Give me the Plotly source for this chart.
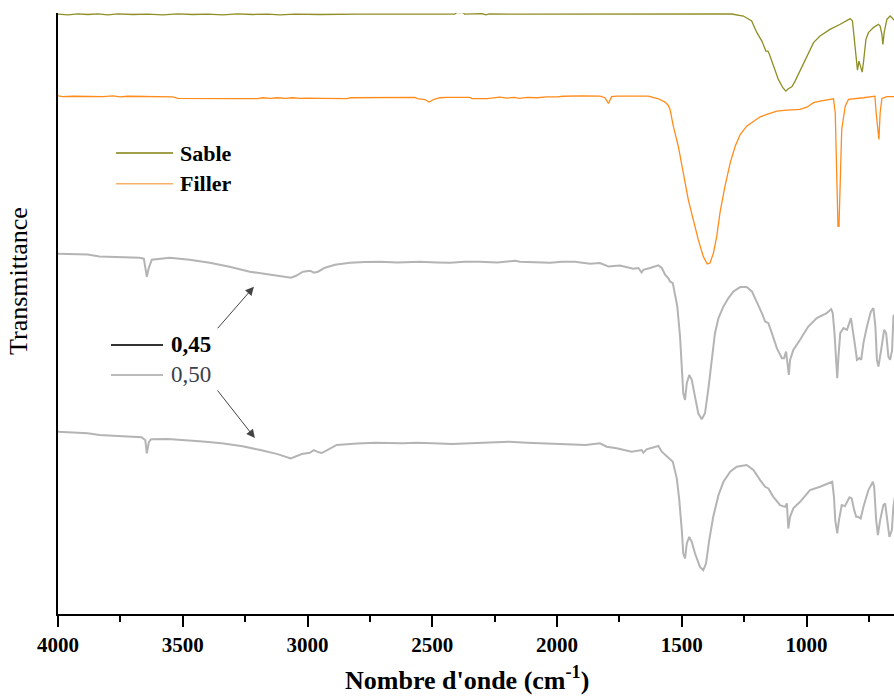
import plotly.graph_objects as go

# FTIR spectra: (wavenumber cm-1, transmittance in arbitrary stacked units)
sable = [(4000, 99.8), (3960, 99.7), (3920, 99.85), (3880, 99.75), (3840, 99.85), (3800, 99.7),
         (3760, 99.85), (3700, 99.75), (3640, 99.8), (3580, 99.7), (3520, 99.85), (3460, 99.75),
         (3400, 99.8), (3340, 99.7), (3280, 99.85), (3220, 99.75), (3160, 99.8), (3110, 99.7),
         (3050, 99.8), (2950, 99.75), (2800, 99.8), (2600, 99.8), (2410, 99.8), (2404, 100.05),
         (2376, 100.05), (2370, 99.8), (2300, 99.9), (2285, 99.7), (2272, 99.85), (2150, 99.8),
         (1900, 99.8), (1600, 99.8), (1400, 99.8), (1300, 99.83), (1253, 99.5), (1220, 98.67),
         (1199, 96.73), (1179, 95.33), (1163, 93.67), (1155, 93.67), (1149, 93.12), (1133, 91.17),
         (1113, 88.95), (1095, 87.57), (1083, 87.0), (1073, 87.4), (1059, 87.73), (1046, 88.67),
         (1026, 90.33), (999, 92.83), (972, 95.07), (946, 96.17), (906, 97.28), (865, 98.12),
         (825, 99.07), (816, 98.67), (809, 96.17), (801, 92.28), (796, 90.5), (790, 92.0),
         (785, 91.17), (777, 90.17), (772, 91.73), (762, 95.62), (752, 96.73), (732, 97.57),
         (712, 98.12), (705, 97.83), (698, 96.45), (694, 94.78), (689, 96.73), (678, 98.95),
         (665, 99.5), (649, 98.83)]

filler = [(4000, 86.2), (3980, 86.1), (3940, 86.15), (3900, 86.1), (3860, 86.15), (3820, 86.1),
          (3780, 86.2), (3750, 86.05), (3720, 86.15), (3680, 86.1), (3600, 86.1), (3540, 86.05),
          (3520, 85.8), (3450, 85.75), (3300, 85.75), (3200, 85.75), (3180, 85.9), (3150, 85.8),
          (3120, 85.9), (3090, 85.8), (3060, 85.9), (3030, 85.8), (3000, 85.85), (2950, 85.8),
          (2900, 85.75), (2840, 85.75), (2830, 85.9), (2700, 85.9), (2660, 85.85), (2650, 85.95),
          (2570, 85.95), (2560, 85.75), (2530, 85.6), (2512, 85.2), (2495, 85.6), (2470, 85.9),
          (2440, 85.95), (2350, 85.95), (2340, 85.75), (2280, 85.75), (2260, 85.9), (2230, 86.0),
          (2200, 85.85), (2170, 85.95), (2150, 85.8), (2120, 85.95), (2080, 85.9), (2040, 86.05),
          (2000, 86.05), (1975, 86.15), (1900, 86.2), (1840, 86.15), (1828, 86.17), (1808, 85.9),
          (1794, 84.95), (1781, 86.07), (1761, 86.17), (1634, 86.17), (1594, 85.73), (1567, 85.17),
          (1554, 84.62), (1547, 83.95), (1534, 81.17), (1514, 77.83), (1494, 73.4), (1474, 68.95),
          (1454, 65.62), (1434, 62.28), (1414, 59.5), (1398, 58.23), (1387, 58.4), (1373, 60.07),
          (1360, 62.83), (1347, 66.73), (1327, 71.17), (1306, 75.07), (1286, 77.83), (1266, 79.78),
          (1240, 81.17), (1213, 82.0), (1186, 82.73), (1159, 83.12), (1119, 83.67), (1079, 83.83),
          (1026, 83.95), (999, 84.33), (972, 85.07), (946, 85.33), (905, 85.62), (892, 85.73),
          (885, 83.4), (879, 71.17), (874, 64.5), (870, 64.5), (865, 72.28), (859, 80.62),
          (845, 84.5), (832, 85.62), (772, 85.9), (726, 86.17), (721, 83.4), (714, 79.5),
          (710, 78.95), (705, 83.4), (698, 85.78), (678, 86.07), (649, 86.07)]

wc045 = [(4000, 59.95), (3881, 59.8), (3834, 59.5), (3760, 59.4), (3672, 59.28), (3656, 59.12),
         (3644, 56.12), (3636, 57.6), (3624, 58.95), (3552, 59.28), (3472, 58.95), (3392, 58.45),
         (3312, 57.78), (3231, 56.95), (3151, 56.45), (3091, 56.12), (3066, 55.95), (3046, 56.28),
         (3018, 56.95), (2990, 57.12), (2974, 56.78), (2958, 56.95), (2930, 57.62), (2890, 58.12),
         (2830, 58.45), (2770, 58.55), (2710, 58.62), (2640, 58.5), (2550, 58.62), (2480, 58.5),
         (2429, 58.45), (2370, 58.6), (2309, 58.62), (2240, 58.5), (2168, 58.78), (2149, 58.62),
         (2090, 58.55), (2028, 58.45), (1980, 58.6), (1928, 58.62), (1868, 58.28), (1828, 58.4),
         (1794, 57.83), (1748, 58.0), (1694, 57.45), (1674, 57.57), (1661, 56.83), (1654, 57.28),
         (1627, 57.57), (1594, 58.0), (1580, 57.57), (1567, 56.45), (1554, 55.9), (1547, 55.33),
         (1536, 55.07), (1527, 52.83), (1518, 51.17), (1507, 46.17), (1500, 41.17), (1494, 36.73),
         (1487, 35.62), (1480, 38.4), (1470, 39.78), (1460, 38.95), (1447, 36.17), (1434, 33.4),
         (1420, 32.4), (1407, 33.4), (1394, 37.28), (1380, 42.28), (1367, 46.73), (1353, 49.23),
         (1333, 51.17), (1313, 52.57), (1293, 53.67), (1266, 54.4), (1240, 54.4), (1219, 53.67),
         (1199, 52.0), (1179, 50.07), (1166, 48.67), (1153, 48.4), (1139, 46.73), (1119, 44.23),
         (1099, 42.57), (1090, 42.57), (1082, 43.67), (1077, 41.73), (1071, 39.78), (1066, 42.28),
         (1053, 43.95), (1026, 45.62), (993, 47.83), (959, 49.23), (919, 50.07), (901, 50.73),
         (895, 50.07), (888, 46.73), (881, 42.28), (877, 39.23), (872, 42.83), (865, 46.73),
         (852, 47.57), (838, 47.28), (822, 49.23), (814, 47.28), (805, 44.5), (798, 42.28),
         (788, 42.57), (781, 42.28), (772, 45.07), (758, 47.83), (742, 50.33), (732, 50.9),
         (724, 47.83), (718, 42.28), (712, 41.17), (701, 43.95), (689, 47.28), (681, 46.73),
         (672, 42.83), (665, 42.28), (657, 43.95), (652, 49.5), (649, 49.78)]

wc050 = [(4000, 30.33), (3940, 30.2), (3881, 30.07), (3834, 29.78), (3760, 29.6), (3665, 29.4),
         (3650, 28.9), (3644, 26.73), (3636, 28.6), (3627, 29.07), (3560, 29.1), (3496, 28.95),
         (3420, 28.7), (3344, 28.4), (3260, 27.9), (3189, 27.28), (3120, 26.6), (3067, 25.9),
         (3040, 26.3), (3023, 26.62), (2991, 26.83), (2975, 27.28), (2955, 26.9), (2943, 26.78),
         (2910, 27.5), (2883, 28.12), (2800, 28.35), (2730, 28.5), (2620, 28.4), (2560, 28.5),
         (2499, 28.4), (2420, 28.3), (2345, 28.4), (2270, 28.5), (2193, 28.67), (2120, 28.5),
         (2038, 28.4), (1960, 28.3), (1885, 28.12), (1828, 28.4), (1801, 27.83), (1761, 27.57),
         (1701, 27.0), (1661, 27.28), (1654, 26.83), (1641, 27.4), (1594, 27.95), (1580, 27.0),
         (1560, 26.17), (1547, 25.73), (1536, 25.33), (1520, 22.57), (1510, 18.95), (1500, 13.95),
         (1494, 10.07), (1487, 9.23), (1480, 11.73), (1470, 12.83), (1460, 12.0), (1447, 10.07),
         (1427, 7.83), (1414, 7.28), (1403, 8.4), (1390, 12.28), (1374, 16.17), (1353, 19.78),
         (1333, 22.0), (1306, 23.67), (1280, 24.5), (1240, 24.78), (1213, 23.95), (1186, 22.28),
         (1166, 21.17), (1153, 20.9), (1133, 19.5), (1106, 18.12), (1086, 17.83), (1079, 18.4),
         (1073, 14.23), (1066, 16.17), (1053, 17.57), (1026, 18.67), (986, 20.62), (946, 21.17),
         (906, 21.83), (897, 22.0), (890, 19.5), (885, 15.62), (877, 13.4), (870, 15.62),
         (859, 18.12), (846, 17.95), (828, 19.4), (819, 19.23), (809, 17.28), (801, 16.17),
         (794, 16.17), (783, 15.9), (772, 17.83), (752, 20.62), (734, 22.0), (729, 21.17),
         (721, 15.62), (714, 13.12), (705, 15.62), (692, 18.12), (685, 18.4), (676, 15.62),
         (668, 12.83), (658, 13.95), (652, 17.83), (646, 19.5)]

x_ticks = [4000, 3500, 3000, 2500, 2000, 1500, 1000]
x_title = "Nombre d'onde (cm<sup>-1</sup>)"
y_title = "Transmittance"

SERIF = "Liberation Serif, Times New Roman, serif"

series = [
    ("Sable", sable, "#8e8e24", 1.3),
    ("Filler", filler, "#ff8c1a", 1.3),
    ("0,45", wc045, "#b4b4b4", 2.0),
    ("0,50", wc050, "#b4b4b4", 2.0),
]

fig = go.Figure()
for name, pts, col, w in series:
    fig.add_trace(go.Scatter(
        x=[p[0] for p in pts], y=[p[1] for p in pts], mode="lines", name=name,
        line=dict(color=col, width=w), showlegend=False))

fig.update_layout(
    width=894, height=697,
    margin=dict(l=58, r=0, t=13, b=83),
    paper_bgcolor="white", plot_bgcolor="white",
    showlegend=False,
)
fig.update_xaxes(
    range=[4000, 649.5], tickvals=x_ticks, ticktext=[str(v) for v in x_ticks],
    showgrid=False, zeroline=False, showline=True, linecolor="black", linewidth=2,
    ticks="outside", ticklen=11, tickwidth=2, tickcolor="black",
    tickfont=dict(family=SERIF, size=21, color="black", weight="bold"),
    minor=dict(dtick=250, tick0=0, ticks="outside", ticklen=6, tickwidth=2, tickcolor="black"),
)
fig.update_yaxes(
    range=[0, 100], showgrid=False, zeroline=False, showline=True, linecolor="black",
    linewidth=2, showticklabels=False, ticks="",
)

# legend keys (two groups) drawn as short lines + text
legend_items = [
    ("Sable", "#808010", 1.5, 0.767, "black", "bold"),
    ("Filler", "#f7b06a", 1.5, 0.716, "black", "bold"),
]
legend_items2 = [
    ("0,45", "#333333", 2.0, 0.4476, "black", "bold"),
    ("0,50", "#bbbbbb", 2.0, 0.3977, "#3a414c", "normal"),
]
shapes = []
annots = []
for (txt, col, w, yp, tcol, wt) in legend_items:
    shapes.append(dict(type="line", xref="paper", yref="paper", x0=0.0694, x1=0.1376,
                       y0=yp, y1=yp, line=dict(color=col, width=w)))
    annots.append(dict(xref="paper", yref="paper", x=0.1435, y=yp, text=txt, showarrow=False,
                       xanchor="left", yanchor="middle",
                       font=dict(family=SERIF, size=22, color=tcol, weight=wt)))
for (txt, col, w, yp, tcol, wt) in legend_items2:
    shapes.append(dict(type="line", xref="paper", yref="paper", x0=0.0634, x1=0.1256,
                       y0=yp, y1=yp, line=dict(color=col, width=w)))
    annots.append(dict(xref="paper", yref="paper", x=0.1325, y=yp, text=txt, showarrow=False,
                       xanchor="left", yanchor="middle",
                       font=dict(family=SERIF, size=23, color=tcol, weight=wt)))

# arrows from legend labels to spectra
annots.append(dict(x=3215, y=54.45, xref="x", yref="y", ax=-37.5, ay=43, text="",
                   showarrow=True, arrowhead=2, arrowsize=1.7, arrowwidth=1, arrowcolor="#444"))
annots.append(dict(x=3211, y=29.28, xref="x", yref="y", ax=-38.5, ay=-49, text="",
                   showarrow=True, arrowhead=2, arrowsize=1.7, arrowwidth=1, arrowcolor="#444"))

# axis titles
annots.append(dict(xref="paper", yref="paper", x=0.489, y=-0.108, text=x_title, showarrow=False,
                   xanchor="center", yanchor="middle",
                   font=dict(family=SERIF, size=26, color="black", weight="bold")))
annots.append(dict(xref="paper", yref="paper", x=-0.048, y=0.554, text=y_title, showarrow=False,
                   xanchor="center", yanchor="middle", textangle=-90,
                   font=dict(family=SERIF, size=26, color="black")))

fig.update_layout(shapes=shapes, annotations=annots)
fig.write_html(
    "out.html",
    config={"displayModeBar": False},
    post_script="document.body.style.margin='0px';document.body.style.padding='0px';"
                "document.documentElement.style.overflow='hidden';",
)
